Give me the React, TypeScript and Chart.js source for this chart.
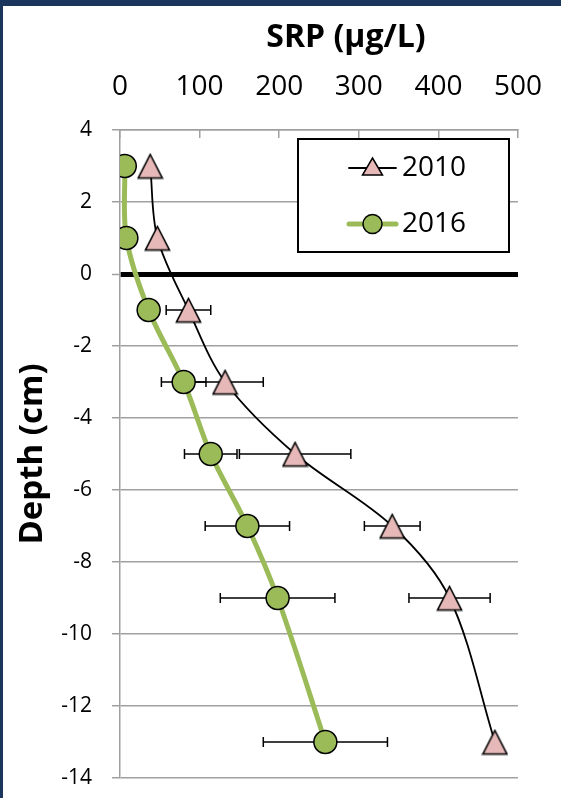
import React, { useEffect, useRef } from 'react';
import { Chart, registerables } from 'chart.js';

Chart.register(...registerables);

// Porewater SRP depth profiles (mean ± SD)
const depthCm = [3, 1, -1, -3, -5, -7, -9, -13];
const srp2010 = [38, 47, 86, 132, 220, 342, 414, 471];
const sd2010 = [0, 0, 28, 48, 70, 35, 51, 0];
const srp2016 = [6, 8, 36, 80, 114, 160, 198, 258];
const sd2016 = [0, 0, 0, 28, 33, 53, 72, 78];
const seriesNames = ['2010', '2016'];
const xAxisTitle = 'SRP (μg/L)';
const yAxisTitle = 'Depth (cm)';
const xMin = 0;
const xMax = 500;
const xStep = 100;
const yMin = -14;
const yMax = 4;
const yStep = 2;

const FONT = "'Open Sans', sans-serif";
const GRID = '#A0A0A0';
const PINK = '#E6B9B8';
const GREEN = '#9BBB59';
const NAVY = '#1B365D';

// Isosceles triangle marker rendered once to an offscreen canvas
function makeTriangle(w: number, h: number, fill: string) {
  const c = document.createElement('canvas');
  c.width = w;
  c.height = h;
  const g = c.getContext('2d')!;
  g.beginPath();
  g.moveTo(w / 2, 2);
  g.lineTo(w - 1.5, h - 1.5);
  g.lineTo(1.5, h - 1.5);
  g.closePath();
  g.fillStyle = fill;
  g.fill();
  g.lineWidth = 1.6;
  g.strokeStyle = '#000';
  g.stroke();
  return c;
}

// Horizontal error bars, drawn beneath the markers
const errorBars = {
  id: 'errorBars',
  beforeDatasetsDraw(chart: any) {
    const { ctx, scales } = chart;
    const xs = scales.x;
    const ys = scales.y;
    ctx.save();
    ctx.strokeStyle = '#000';
    ctx.lineWidth = 1.5;
    chart.data.datasets.forEach((ds: any) => {
      ds.data.forEach((p: any, i: number) => {
        const e = ds.errors[i];
        if (!e) return;
        const py = ys.getPixelForValue(p.y);
        const x0 = xs.getPixelForValue(p.x - e);
        const x1 = xs.getPixelForValue(p.x + e);
        ctx.beginPath();
        ctx.moveTo(x0, py);
        ctx.lineTo(x1, py);
        ctx.moveTo(x0, py - 5);
        ctx.lineTo(x0, py + 5);
        ctx.moveTo(x1, py - 5);
        ctx.lineTo(x1, py + 5);
        ctx.stroke();
      });
    });
    ctx.restore();
  },
};

// Boxed legend inside the plot area
const boxedLegend = {
  id: 'boxedLegend',
  afterDraw(chart: any, _args: any, opts: any) {
    const { ctx } = chart;
    const { left, top, width, height, rows, lineFrom, lineTo, textX } = opts;
    ctx.save();
    ctx.fillStyle = '#fff';
    ctx.fillRect(left, top, width, height);
    ctx.strokeStyle = '#000';
    ctx.lineWidth = 2;
    ctx.strokeRect(left, top, width, height);
    chart.data.datasets.forEach((ds: any, i: number) => {
      const y = rows[i];
      ctx.beginPath();
      ctx.lineCap = 'round';
      ctx.strokeStyle = ds.borderColor;
      ctx.lineWidth = ds.borderWidth;
      ctx.moveTo(lineFrom, y);
      ctx.lineTo(lineTo, y);
      ctx.stroke();
      const cx = (lineFrom + lineTo) / 2;
      ctx.beginPath();
      if (ds.legendMarker === 'triangle') {
        ctx.moveTo(cx, y - 10);
        ctx.lineTo(cx + 10, y + 7);
        ctx.lineTo(cx - 10, y + 7);
        ctx.closePath();
      } else {
        ctx.arc(cx, y, 9.5, 0, Math.PI * 2);
      }
      ctx.fillStyle = ds.pointBackgroundColor;
      ctx.fill();
      ctx.lineWidth = 1.5;
      ctx.strokeStyle = '#000';
      ctx.stroke();
      ctx.fillStyle = '#000';
      ctx.font = `28px ${FONT}`;
      ctx.textAlign = 'left';
      ctx.textBaseline = 'middle';
      ctx.fillText(ds.label, textX, y);
    });
    ctx.restore();
  },
};

// Bold caption for the top value axis
const topCaption = {
  id: 'topCaption',
  afterDraw(chart: any, _args: any, opts: any) {
    const { ctx } = chart;
    ctx.save();
    ctx.fillStyle = '#000';
    ctx.font = `bold 32px ${FONT}`;
    ctx.textAlign = 'center';
    ctx.textBaseline = 'middle';
    ctx.fillText(opts.text, opts.x, opts.y);
    ctx.restore();
  },
};

export default function App() {
  const ref = useRef<HTMLCanvasElement>(null);

  useEffect(() => {
    const triangle = makeTriangle(27, 27, PINK);
    const chart = new Chart(ref.current!, {
      type: 'scatter',
      data: {
        datasets: [
          {
            label: seriesNames[0],
            data: depthCm.map((d, i) => ({ x: srp2010[i], y: d })),
            errors: sd2010,
            legendMarker: 'triangle',
            showLine: true,
            tension: 0.33,
            borderColor: '#000',
            borderWidth: 1.8,
            pointStyle: triangle,
            pointRadius: 14,
            pointBackgroundColor: PINK,
            pointBorderColor: '#000',
          } as any,
          {
            label: seriesNames[1],
            data: depthCm.map((d, i) => ({ x: srp2016[i], y: d })),
            errors: sd2016,
            legendMarker: 'circle',
            showLine: true,
            tension: 0.33,
            borderColor: GREEN,
            borderWidth: 5,
            pointStyle: 'circle',
            pointRadius: 11.5,
            pointBorderWidth: 1.5,
            pointBackgroundColor: GREEN,
            pointBorderColor: '#000',
          } as any,
        ],
      },
      options: {
        responsive: false,
        animation: false,
        events: [],
        layout: { padding: { left: 0, top: 0, right: 43, bottom: 20 } },
        scales: {
          x: {
            type: 'linear',
            position: 'top',
            min: xMin,
            max: xMax,
            ticks: {
              stepSize: xStep,
              padding: 34,
              color: '#000',
              autoSkip: false,
              maxRotation: 0,
              font: { family: FONT, size: 28 },
            },
            grid: {
              drawOnChartArea: false,
              drawTicks: true,
              tickLength: -8,
              color: GRID,
              lineWidth: 1.5,
            },
            border: { display: true, color: GRID, width: 1.5 },
            afterFit: (s: any) => {
              s.height = 130;
              s.paddingLeft = 0;
              s.paddingRight = 0;
            },
          },
          y: {
            type: 'linear',
            min: yMin,
            max: yMax,
            ticks: {
              stepSize: yStep,
              padding: 20,
              color: '#000',
              font: { family: FONT, size: 21 },
            },
            grid: {
              color: (c: any) => (c.tick && c.tick.value === 0 ? '#000' : GRID),
              lineWidth: (c: any) => (c.tick && c.tick.value === 0 ? 5 : 1.5),
              tickColor: GRID,
              tickWidth: 1.5,
              tickLength: 8,
            },
            border: { display: true, color: GRID, width: 1.5 },
            title: {
              display: true,
              text: yAxisTitle,
              color: '#000',
              font: { family: FONT, size: 33, weight: 'bold' },
              padding: { top: 13, bottom: 0 },
            },
            afterFit: (s: any) => {
              s.width = 120;
              s.paddingTop = 0;
              s.paddingBottom = 0;
            },
          },
        },
        plugins: {
          legend: { display: false },
          tooltip: { enabled: false },
          boxedLegend: {
            left: 298,
            top: 139,
            width: 211,
            height: 113,
            rows: [168, 224],
            lineFrom: 349,
            lineTo: 396,
            textX: 402,
          },
          topCaption: { text: xAxisTitle, x: 346, y: 38 },
        } as any,
      },
      plugins: [errorBars, boxedLegend, topCaption],
    });
    return () => chart.destroy();
  }, []);

  return (
    <div
      style={{
        position: 'fixed',
        left: 0,
        top: 0,
        width: 561,
        height: 798,
        background: '#fff',
        overflow: 'hidden',
      }}
    >
      <canvas ref={ref} width={561} height={798} style={{ position: 'absolute', left: 0, top: 0 }} />
      <div style={{ position: 'absolute', left: 0, top: 0, width: 561, height: 6, background: NAVY }} />
      <div style={{ position: 'absolute', left: 0, top: 0, width: 3, height: 798, background: NAVY }} />
    </div>
  );
}
